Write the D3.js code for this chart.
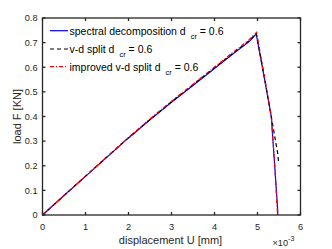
<!DOCTYPE html>
<html>
<head>
<meta charset="utf-8">
<script src="https://cdn.jsdelivr.net/npm/d3@7"></script>
<style>
  body { margin: 0; background: #fff; }
  svg { display: block; font-family: "Liberation Sans", Arial, sans-serif; }
</style>
</head>
<body>
<svg id="chart" width="332" height="249"></svg>
<script>
// displacement values are in units of 1e-3 mm
const dispSpectral = [0, 0.5, 1, 1.5, 2, 2.5, 3, 3.5, 4, 4.5, 4.8, 4.97, 5.15, 5.32, 5.4, 5.47, 5.47];
const loadSpectral = [0, 0.079, 0.157, 0.235, 0.313, 0.387, 0.458, 0.526, 0.595, 0.664, 0.703, 0.735, 0.565, 0.4, 0.2, 0.02, 0];

const dispSplit = [0, 0.5, 1, 1.5, 2, 2.5, 3, 3.5, 4, 4.5, 4.8, 4.97, 5.15, 5.32, 5.36, 5.4, 5.44, 5.47, 5.49];
const loadSplit = [0, 0.079, 0.158, 0.236, 0.314, 0.388, 0.460, 0.529, 0.598, 0.667, 0.707, 0.737, 0.57, 0.4, 0.36, 0.32, 0.28, 0.25, 0.215];

const dispImproved = [0, 0.5, 1, 1.5, 2, 2.5, 3, 3.5, 4, 4.5, 4.8, 4.98, 5.15, 5.32, 5.4, 5.46, 5.46];
const loadImproved = [0, 0.079, 0.158, 0.237, 0.315, 0.390, 0.462, 0.531, 0.601, 0.670, 0.711, 0.742, 0.57, 0.405, 0.205, 0.02, 0];

const legendNames = ["spectral decomposition d", "v-d split d", "improved v-d split d"];
const xTicks = [0, 1, 2, 3, 4, 5, 6];
const yTicks = [0, 0.1, 0.2, 0.3, 0.4, 0.5, 0.6, 0.7, 0.8];

const svg = d3.select("#chart");
const plotL = 42.5, plotR = 300.5, plotT = 18, plotB = 215;
const axisColor = "#262626";

const x = d3.scaleLinear().domain([0, 6]).range([plotL, plotR]);
const y = d3.scaleLinear().domain([0, 0.8]).range([plotB, plotT]);

// series
const series = [
	{xs: dispSpectral, ys: loadSpectral, color: "#0000ff", dash: null},
	{xs: dispSplit, ys: loadSplit, color: "#000000", dash: "4,3"},
	{xs: dispImproved, ys: loadImproved, color: "#ff0000", dash: "4,2,1,2"}
];
const line = d3.line().x(d => x(d[0])).y(d => y(d[1]));
series.forEach(s => {
	svg.append("path")
		.datum(s.xs.map((v, i) => [v, s.ys[i]]))
		.attr("d", line)
		.attr("fill", "none")
		.attr("stroke", s.color)
		.attr("stroke-width", 1.2)
		.attr("stroke-dasharray", s.dash);
});

// axes: inside ticks on all four sides, box on
const tickLen = 3;
const g = svg.append("g").attr("stroke", axisColor).attr("stroke-width", 1.3);
xTicks.forEach(t => {
	g.append("line").attr("x1", x(t)).attr("x2", x(t)).attr("y1", plotB).attr("y2", plotB - tickLen);
	g.append("line").attr("x1", x(t)).attr("x2", x(t)).attr("y1", plotT).attr("y2", plotT + tickLen);
});
yTicks.forEach(t => {
	g.append("line").attr("y1", y(t)).attr("y2", y(t)).attr("x1", plotL).attr("x2", plotL + tickLen);
	g.append("line").attr("y1", y(t)).attr("y2", y(t)).attr("x1", plotR).attr("x2", plotR - tickLen);
});
g.append("rect").attr("x", plotL).attr("y", plotT)
	.attr("width", plotR - plotL).attr("height", plotB - plotT).attr("fill", "none");

// tick labels
const fs = 9.2;
svg.append("g").selectAll("text").data(xTicks).join("text")
	.attr("x", d => x(d)).attr("y", plotB + 14.5)
	.attr("text-anchor", "middle").attr("font-size", fs).attr("fill", axisColor)
	.text(d => d);
svg.append("g").selectAll("text").data(yTicks).join("text")
	.attr("x", plotL - 5).attr("y", d => y(d) + 3.3)
	.attr("text-anchor", "end").attr("font-size", fs).attr("fill", axisColor)
	.text(d => d3.format("")(+d.toFixed(1)));

// exponent label
const ex = svg.append("text").attr("x", 272.5).attr("y", 246)
	.attr("font-size", fs).attr("fill", axisColor);
ex.append("tspan").text("\u00d710");
ex.append("tspan").attr("dy", -5).attr("font-size", 7).text("-3");

// axis labels
svg.append("text").attr("x", 170.5).attr("y", 243.5)
	.attr("text-anchor", "middle").attr("font-size", 11).attr("fill", axisColor)
	.text("displacement U [mm]");
svg.append("text")
	.attr("transform", `translate(20.5,${(plotT + plotB) / 2}) rotate(-90)`)
	.attr("text-anchor", "middle").attr("font-size", 11).attr("fill", axisColor)
	.text("load F [KN]");

// legend (no box)
const legY = [30.7, 49, 66.7];
series.forEach((s, i) => {
	svg.append("line")
		.attr("x1", 50).attr("x2", 68).attr("y1", legY[i]).attr("y2", legY[i])
		.attr("stroke", s.color).attr("stroke-width", 1.2)
		.attr("stroke-dasharray", s.dash);
	const t = svg.append("text").attr("x", 69.5).attr("y", legY[i] + 3.8)
		.attr("font-size", 10.5).attr("fill", "#000");
	t.append("tspan").text(legendNames[i]);
	t.append("tspan").attr("dx", 5).attr("dy", 4).attr("font-size", 7.5).text("cr");
	t.append("tspan").attr("dy", -4).text(" = 0.6");
});
</script>
</body>
</html>
